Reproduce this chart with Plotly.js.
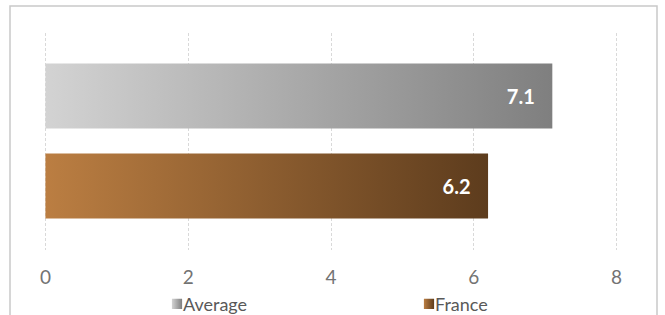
<!DOCTYPE html>
<html><head><meta charset="utf-8">
<script src="https://cdn.plot.ly/plotly-3.0.1.min.js"></script>
<style>html,body{margin:0;padding:0;background:#fff;}#chart{width:665px;height:315px;}</style>
</head><body><div id="chart"></div>
<script>
// ---- data ----
const seriesNames = ['Average', 'France'];
const seriesValues = [7.1, 6.2];
const xTickValues = [0, 2, 4, 6, 8];
const xTickLabels = ['0', '2', '4', '6', '8'];

// ---- styles ----
const gradientStops = [['#d3d3d3', '#7f7f7f'], ['#bb7e42', '#5d3c1d']];
const midColors = ['#a9a9a9', '#8c5d30'];
const FONT = 'Lato, "DejaVu Sans", sans-serif';

const traces = seriesNames.map((name, i) => ({
  type: 'bar', orientation: 'h', name: name,
  x: [seriesValues[i]], y: [name],
  marker: {color: midColors[i], line: {width: 0}},
  width: 0.72,
  texttemplate: '%{x:.1f}\u00a0\u00a0\u00a0',
  textposition: 'inside', insidetextanchor: 'end',
  insidetextfont: {family: FONT, size: 20, color: '#ffffff', weight: 700},
  hoverinfo: 'skip'
}));

const layout = {
  width: 665, height: 315,
  margin: {l: 44, r: 47, t: 33, b: 65, autoexpand: false},
  paper_bgcolor: '#ffffff', plot_bgcolor: '#ffffff',
  barmode: 'overlay',
  showlegend: true,
  xaxis: {
    range: [-0.02, 8.02], tickmode: 'array', tickvals: xTickValues, ticktext: xTickLabels,
    showgrid: true, gridcolor: '#d9d9d9', gridwidth: 1, griddash: '3px,2px',
    zeroline: false, showline: false,
    ticks: 'outside', ticklen: 10, tickcolor: 'rgba(0,0,0,0)',
    tickfont: {family: FONT, size: 19, color: '#737373'}, fixedrange: true
  },
  yaxis: {
    type: 'category', categoryorder: 'array', categoryarray: seriesNames,
    range: [1.711, -0.7], showticklabels: false, showgrid: false,
    zeroline: false, showline: false, fixedrange: true
  },
  legend: {
    orientation: 'h', x: (143 - 44) / 574, xanchor: 'left',
    y: -0.25, yanchor: 'middle',
    entrywidth: 207, entrywidthmode: 'pixels',
    font: {family: FONT, size: 18, color: '#595959'},
    bgcolor: 'rgba(0,0,0,0)', traceorder: 'normal'
  },
  shapes: [{
    type: 'rect', xref: 'paper', yref: 'paper',
    x0: -34 / 574, x1: 613 / 574, y0: -0.6, y1: 244 / 217,
    line: {color: '#c9c9c9', width: 1.5}, fillcolor: 'rgba(0,0,0,0)', layer: 'below'
  }]
};

Plotly.newPlot('chart', traces, layout, {staticPlot: true, displayModeBar: false}).then(gd => {
  const ns = 'http://www.w3.org/2000/svg';
  const svg = gd.querySelector('svg.main-svg');
  const defs = document.createElementNS(ns, 'defs');
  gradientStops.forEach((st, i) => {
    const g = document.createElementNS(ns, 'linearGradient');
    g.setAttribute('id', 'barGrad' + i);
    g.setAttribute('x1', '0'); g.setAttribute('y1', '0');
    g.setAttribute('x2', '1'); g.setAttribute('y2', '0');
    st.forEach((c, k) => {
      const s = document.createElementNS(ns, 'stop');
      s.setAttribute('offset', k === 0 ? '0' : '1');
      s.setAttribute('stop-color', c);
      g.appendChild(s);
    });
    defs.appendChild(g);
  });
  svg.appendChild(defs);
  gd.querySelectorAll('.barlayer .trace').forEach((t, i) => {
    t.querySelectorAll('path').forEach(p => { p.style.fill = 'url(#barGrad' + i + ')'; });
  });
  gd.querySelectorAll('.legend .traces').forEach((t, i) => {
    let idx = i;
    try { idx = t.__data__[0][0].trace.index; } catch (e) {}
    const txt = t.querySelector('text.legendtext');
    const tb = txt ? txt.getBBox() : null;
    t.querySelectorAll('.legendpoints path').forEach(p => {
      p.style.fill = 'url(#barGrad' + idx + ')';
      if (tb) p.setAttribute('transform', 'translate(' + (tb.x - 6) + ',0) scale(0.85)');
    });
  });
});
</script>
</body></html>
